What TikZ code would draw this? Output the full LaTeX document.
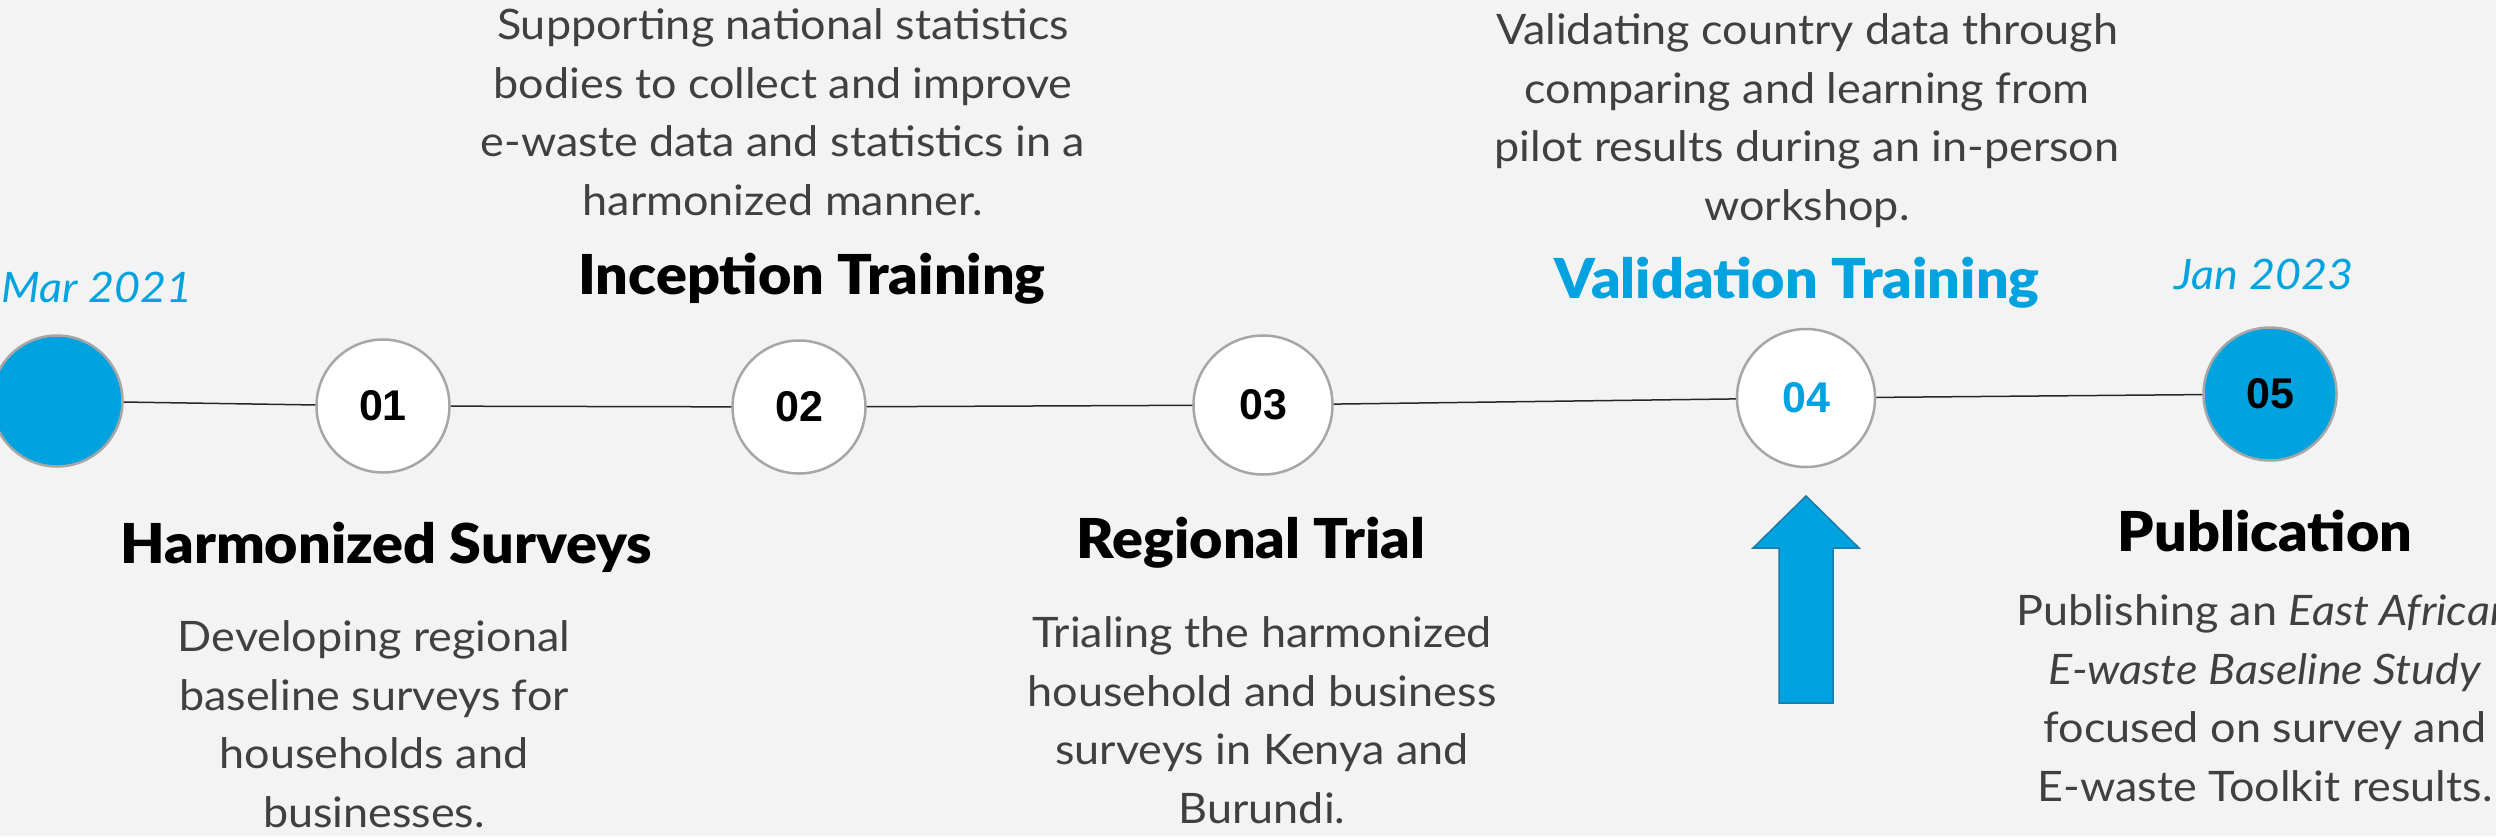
\documentclass[tikz,border=0pt]{standalone}
\usepackage{fontspec}
\setmainfont{Lato}[FakeStretch=1.07]
\newfontfamily\titlefont{Lato Black}[FakeStretch=1.045]
\newfontfamily\numfont{Liberation Sans}
\definecolor{bg}{HTML}{F3F3F3}
\definecolor{ublue}{HTML}{00A3DF}
\definecolor{ringgray}{HTML}{A6A6A6}
\definecolor{txtgray}{HTML}{404040}
\definecolor{arrowedge}{HTML}{1B7BA8}
\begin{document}
\begin{tikzpicture}[x=1pt,y=-1pt,
  stage/.style={circle, draw=ringgray, line width=2.5pt, fill=white, inner sep=0pt,
    font=\numfont\fontsize{43}{43}\selectfont\bfseries},
  link/.style={draw=black!85, line width=1.5pt},
  datelabel/.style={anchor=base, inner sep=0pt, text=ublue,
    font=\fontsize{42}{42}\selectfont\itshape},
  title/.style={anchor=base, inner sep=0pt, text=black,
    font=\titlefont\fontsize{55}{55}\selectfont},
  desc/.style={anchor=base, inner sep=0pt, text=txtgray, align=center,
    font=\fontsize{42}{58.5}\selectfont}
]
\useasboundingbox (0,0) rectangle (2496,836);
\clip (0,0) rectangle (2496,836);
\fill[bg] (0,0) rectangle (2496,836);

% stages
\node[stage, fill=ublue, minimum size=131pt] (c0) at (57,401) {};
\node[stage, minimum size=133pt] (c1) at (383,406) {01};
\node[stage, minimum size=133pt] (c2) at (799,407) {02};
\node[stage, minimum size=139pt] (c3) at (1263,405) {03};
\node[stage, minimum size=138pt, text=ublue] (c4) at (1806,398) {04};
\node[stage, fill=ublue, minimum size=133pt] (c5) at (2270,394) {05};

% timeline
\draw[link] (c0) -- (c1);
\draw[link] (c1) -- (c2);
\draw[link] (c2) -- (c3);
\draw[link] (c3) -- (c4);
\draw[link] (c4) -- (c5);

% arrow
\draw[fill=ublue, draw=arrowedge, line width=1.5pt, line join=miter]
  (1806,496) -- (1859,548) -- (1833,548) -- (1833,703) -- (1779,703)
  -- (1779,548) -- (1753,548) -- cycle;

% dates
\node[datelabel] (d0) at (97,302) {Mar 2021};
\node[datelabel] (d5) at (2264,289) {Jan 2023};

% titles
\node[title] (t1) at (386,563) {Harmonized Surveys};
\node[title] (t2) at (812,294) {Inception Training};
\node[title] (t3) at (1251,558) {Regional Trial};
\node[title, text=ublue] (t4) at (1797,298) {Validation Training};
\node[title] (t5) at (2265,551) {Publication};

% descriptions (anchor = baseline of last line)
\node[desc] (b1) at (374,827) {Developing regional\\baseline surveys for\\households and\\businesses.};
\node[desc] (b2) at (783,215) {Supporting national statistics\\bodies to collect and improve\\e-waste data and statistics in a\\harmonized manner.};
\node[desc] (b3) at (1262,823) {Trialing the harmonized\\household and business\\surveys in Kenya and\\Burundi.};
\node[desc] (b4) at (1807,220) {Validating country data through\\comparing and learning from\\pilot results during an in-person\\workshop.};
\node[desc] (b5) at (2265,801) {Publishing an \textit{East African}\\\textit{E-waste Baseline Study}\\focused on survey and\\E-waste Toolkit results.};
\end{tikzpicture}
\end{document}
